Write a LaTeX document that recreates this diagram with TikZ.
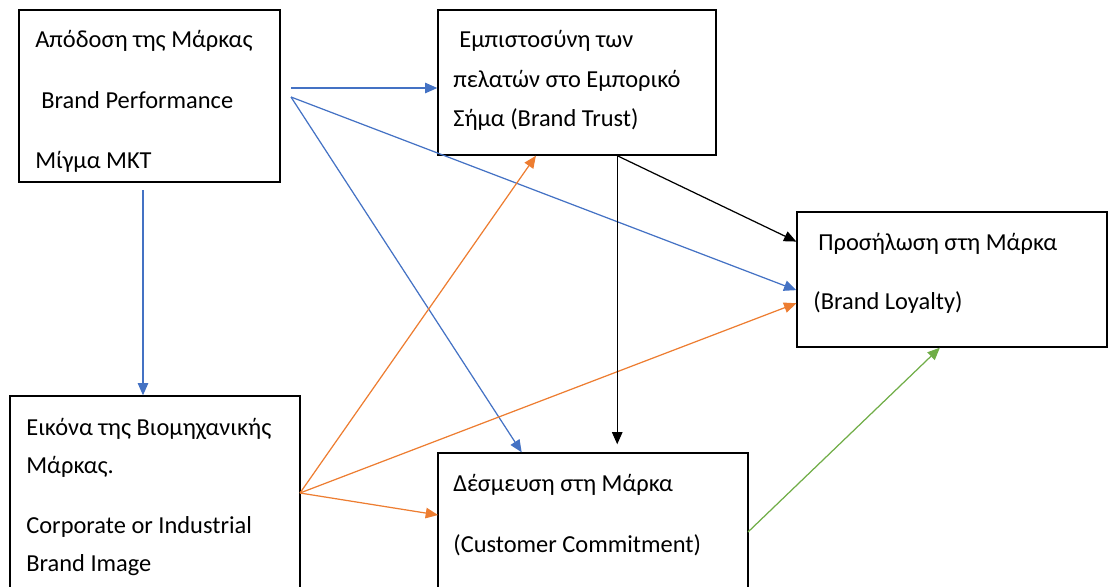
\documentclass[tikz,border=0pt]{standalone}
\usepackage{fontspec}
\setmainfont{Carlito}
\usetikzlibrary{positioning,calc,fit,arrows.meta}
\definecolor{linkblue}{HTML}{4472C4}
\definecolor{linkorange}{HTML}{ED7D31}
\definecolor{linkgreen}{HTML}{70AD47}

\begin{document}
\begin{tikzpicture}[x=0.02cm, y=-0.02cm,
    every node/.style={inner sep=0pt, font=\fontsize{13.9}{16}\selectfont},
    box/.style={draw, line width=0.8pt},
    lbl/.style={anchor=base west},
    link/.style={line width=0.7pt, -{Triangle[length=7pt, width=6pt]}}]
  \useasboundingbox (0,0) rectangle (1109,586);
  \clip (0,0) rectangle (1109,586);

  % the five boxes
  \node[box, fit={(19,10) (280,182)}] (perf) {};
  \node[box, fit={(438,10) (716,155)}] (trust) {};
  \node[box, fit={(797,212) (1107,347)}] (loyal) {};
  \node[box, fit={(10,396) (300,620)}] (image) {};
  \node[box, fit={(438,453) (748,620)}] (commit) {};

  \node[lbl] (perf1) at (35,47) {Απόδοση της Μάρκας};
  \node[lbl] (perf2) at (41,108) {Brand Performance};
  \node[lbl] (perf3) at (35,168) {Μίγμα ΜΚΤ};

  \node[lbl] (trust1) at (459,47) {Εμπιστοσύνη των};
  \node[lbl] (trust2) at (453,87) {πελατών στο Εμπορικό};
  \node[lbl] (trust3) at (453,126) {Σήμα (Brand Trust)};

  \node[lbl] (loyal1) at (818,250) {Προσήλωση στη Μάρκα};
  \node[lbl] (loyal2) at (813,309) {(Brand Loyalty)};

  \node[lbl] (image1) at (26,435) {Εικόνα της Βιομηχανικής};
  \node[lbl] (image2) at (26,473) {Μάρκας.};
  \node[lbl] (image3) at (26,533) {Corporate or Industrial};
  \node[lbl] (image4) at (26,571) {Brand Image};

  \node[lbl] (commit1) at (453,491) {Δέσμευση στη Μάρκα};
  \node[lbl] (commit2) at (453,552) {(Customer Commitment)};

  % free ends of the links
  \coordinate (pa) at (291,88);
  \coordinate (pb) at (291,97);
  \coordinate (pc) at (143,190);
  \coordinate (ia) at (300,493);
  \coordinate (ta) at ($(trust.south west)!0.644!(trust.south east)$);
  \coordinate (cl) at (438,515);
  \coordinate (cg) at (748,532);

  % blue
  \draw[link, linkblue] (pa) -- (pa -| trust.west);
  \draw[link, linkblue] (pb) -- ($(loyal.north west)!0.578!(loyal.south west)$);
  \draw[link, linkblue] (pb) -- ($(commit.north west)!0.271!(commit.north east)$);
  \draw[link, linkblue] (pc) -- (pc |- image.north);

  % orange
  \draw[link, linkorange] (ia) -- ($(trust.south west)!0.353!(trust.south east)$);
  \draw[link, linkorange] (ia) -- ($(loyal.north west)!0.674!(loyal.south west)$);
  \draw[link, linkorange] (ia) -- (cl);

  % black
  \draw[link] (ta) -- ($(loyal.north west)!0.222!(loyal.south west)$);
  \draw[link, shorten >=0.16cm] (ta) -- (ta |- commit.north);

  % green
  \draw[link, linkgreen] (cg) -- ($(loyal.south west)!0.461!(loyal.south east)$);
\end{tikzpicture}
\end{document}
